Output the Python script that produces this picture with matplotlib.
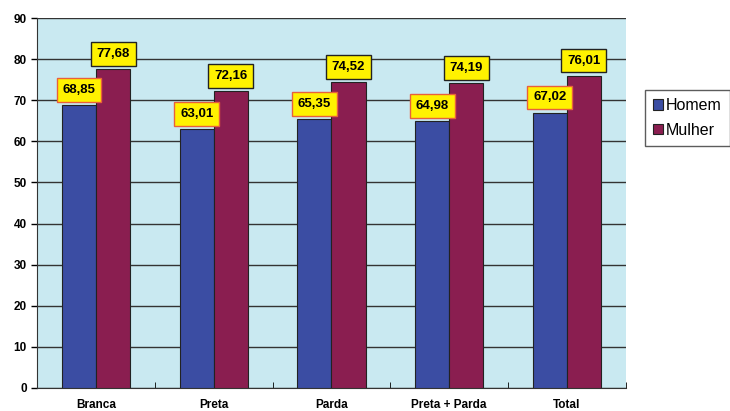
import numpy as np
import matplotlib.pyplot as plt

plt.rcParams["font.family"] = ["Liberation Sans", "DejaVu Sans"]

# Dados
categorias = ["Branca", "Preta", "Parda", "Preta + Parda", "Total"]
homem = [68.85, 63.01, 65.35, 64.98, 67.02]
mulher = [77.68, 72.16, 74.52, 74.19, 76.01]

cor_homem = "#3B4DA3"
cor_mulher = "#8A1E50"

fig = plt.figure(figsize=(7.3, 4.11), dpi=100)
ax = fig.add_axes([0.051, 0.056, 0.806, 0.9])
ax.set_facecolor("#C9E9F1")

x = np.arange(len(categorias))
w = 0.29
ax.bar(x - w / 2, homem, w, color=cor_homem, edgecolor="#222222", linewidth=0.8,
       label="Homem", zorder=3)
ax.bar(x + w / 2, mulher, w, color=cor_mulher, edgecolor="#222222", linewidth=0.8,
       label="Mulher", zorder=3)

# Rótulos de valor
for xi, v in zip(x - w / 2, homem):
    ax.text(xi, v + 2.2, f"{v:.2f}".replace(".", ","), ha="center", va="bottom",
            fontsize=9.5, fontweight="bold", zorder=5,
            bbox=dict(boxstyle="square,pad=0.45", fc="#FFF200", ec="#E8603C", lw=1))
for xi, v in zip(x + w / 2, mulher):
    ax.text(xi, v + 2.2, f"{v:.2f}".replace(".", ","), ha="center", va="bottom",
            fontsize=9.5, fontweight="bold", zorder=5,
            bbox=dict(boxstyle="square,pad=0.45", fc="#FFF200", ec="#222222", lw=1))

ax.set_xlim(-0.5, len(categorias) - 0.5)
ax.set_ylim(0, 90)
ax.set_yticks(range(0, 91, 10))
ax.yaxis.grid(True, color="#333333", linewidth=1, zorder=1)
ax.set_axisbelow(True)

ax.set_xticks(x)
ax.set_xticklabels(categorias, fontweight="bold", fontsize=8.5)
ax.tick_params(axis="x", length=0, pad=8)
ax.set_xticks(np.arange(-0.5, len(categorias)), minor=True)
ax.tick_params(axis="x", which="minor", length=4, direction="in")
ax.tick_params(axis="y", length=4, labelsize=8.5, width=1)
for lbl in ax.get_yticklabels():
    lbl.set_fontweight("bold")

for s in ["top", "right"]:
    ax.spines[s].set_visible(False)
ax.spines["left"].set_color("#333333")
ax.spines["bottom"].set_color("#333333")

ax.legend(loc="center left", bbox_to_anchor=(1.02, 0.73), frameon=True, fancybox=False,
          edgecolor="#333333", fontsize=11.5, handlelength=0.6, handleheight=0.6,
          handletextpad=0.2, borderpad=0.5, labelspacing=0.6)

fig.savefig("out.png", dpi=100)
